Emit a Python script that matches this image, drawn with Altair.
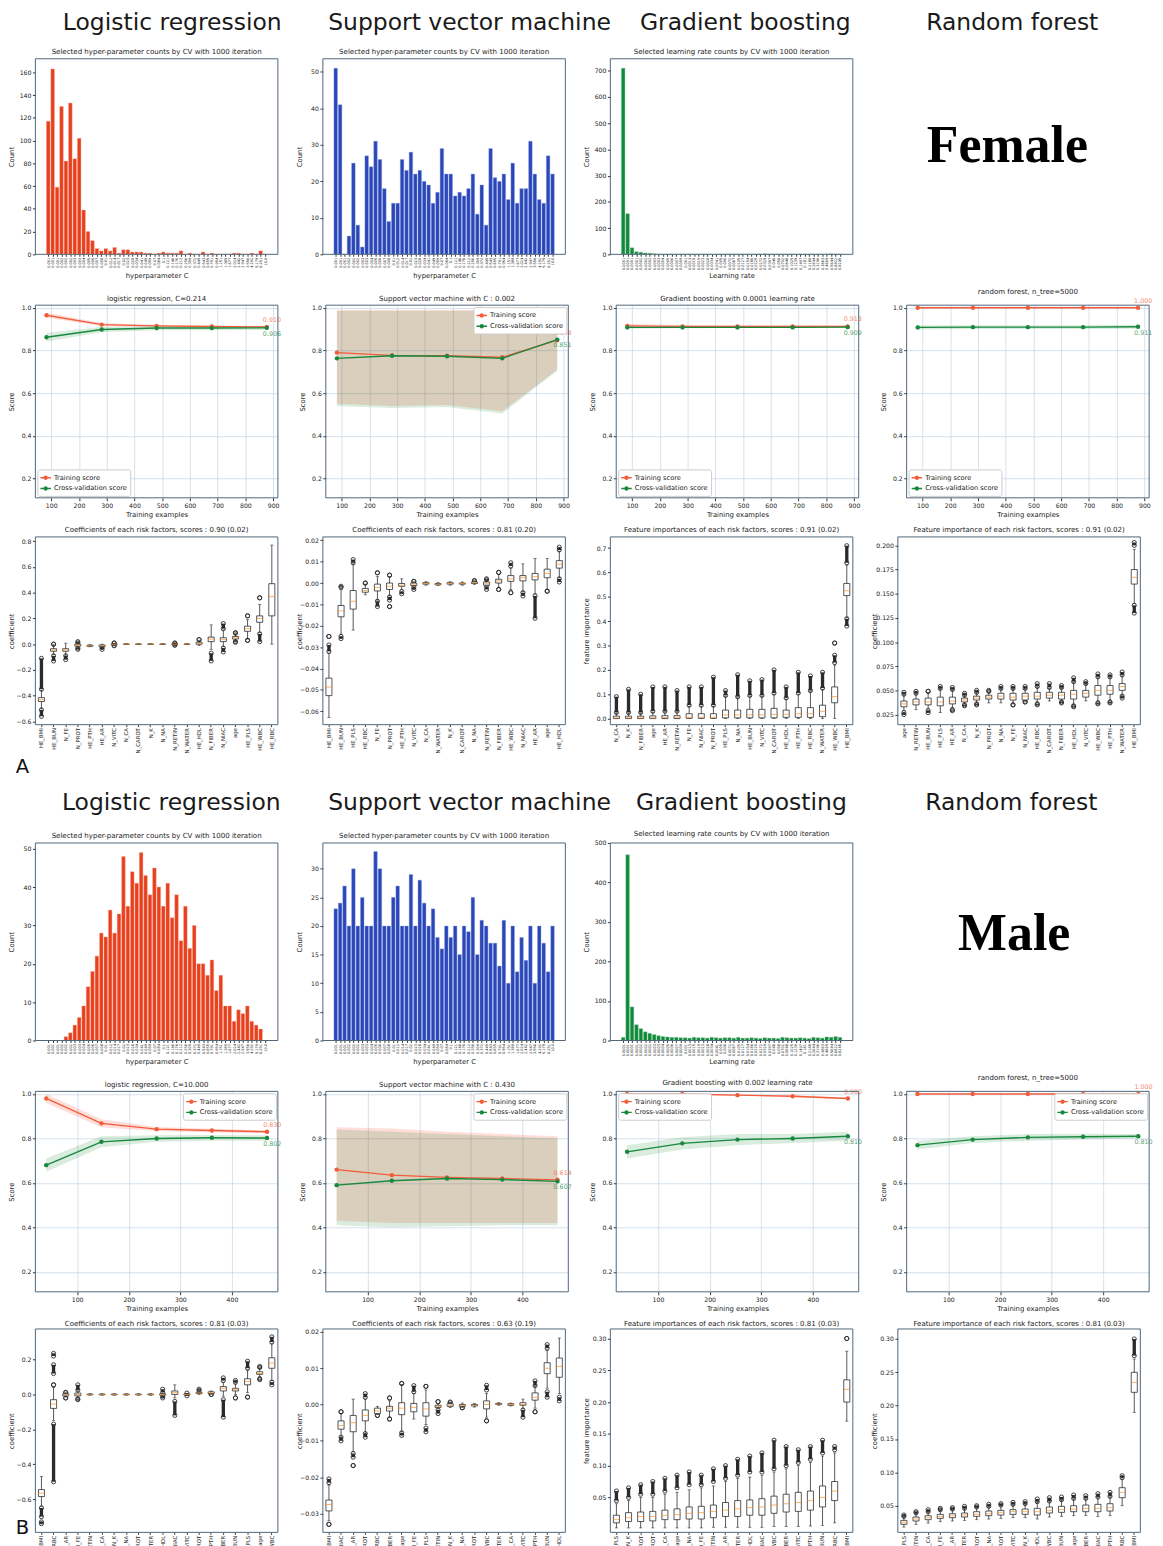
import altair as alt
import pandas as pd

FONT = "DejaVu Sans"
W = 248
FRAME = "#4d6479"
DARK = "#2a2a2a"
RED_LINE = "#f25c3b"
GREEN_LINE = "#17883d"
SERIES = ["Training score", "Cross-validation score"]
SYMBOL = ("M-1,-0.13H-0.36V0.13H-1Z M0.36,-0.13H1V0.13H0.36Z "
          "M0.42,0A0.42,0.42,0,1,1,-0.42,0A0.42,0.42,0,1,1,0.42,0Z")

# ---------------- histogram data ----------------
C_LABELS = ["0.001", "0.001", "0.001", "0.002", "0.002", "0.002", "0.003", "0.003", "0.004", "0.005",
            "0.006", "0.007", "0.008", "0.01", "0.012", "0.014", "0.017", "0.02", "0.023", "0.028",
            "0.034", "0.041", "0.049", "0.059", "0.07", "0.084", "0.1", "0.121", "0.146", "0.176",
            "0.212", "0.256", "0.309", "0.372", "0.449", "0.543", "0.655", "0.791", "0.954", "1.151",
            "1.389", "1.677", "2.024", "2.442", "2.947", "3.556", "4.292", "5.179", "6.251", "10.0"]
LR_LABELS = ["0.0001", "0.0001", "0.0001", "0.0001", "0.0002", "0.0002", "0.0002", "0.0003", "0.0003", "0.0004",
             "0.0005", "0.0006", "0.0007", "0.0009", "0.001", "0.0013", "0.0015", "0.0019", "0.0023", "0.0028",
             "0.0034", "0.0041", "0.005", "0.006", "0.0072", "0.0087", "0.0105", "0.0127", "0.0154", "0.0186",
             "0.0225", "0.0272", "0.0329", "0.0397", "0.048", "0.058", "0.0702", "0.0848", "0.1025", "0.1239",
             "0.1497", "0.181", "0.2188", "0.2644", "0.3196", "0.3863", "0.4669", "0.5644", "0.6822", "0.8245"]

F_LR_HIST = [117, 163, 59, 130, 82, 133, 84, 102, 39, 20, 12, 5, 3, 5, 3, 6, 1, 4, 4, 2,
             2, 2, 1, 1, 0, 1, 2, 1, 1, 1, 3, 0, 1, 0, 0, 2, 0, 1, 0, 0,
             0, 0, 1, 1, 0, 0, 1, 0, 3, 0]
F_SVM_HIST = [51, 41, 0, 5, 25, 8, 2, 27, 24, 31, 26, 18, 9, 14, 14, 26, 23, 28, 22, 23,
              20, 19, 14, 17, 29, 22, 22, 16, 17, 16, 18, 22, 11, 19, 8, 29, 21, 20, 22, 15,
              25, 14, 18, 18, 31, 22, 15, 14, 27, 22]
F_GB_HIST = [710, 155, 25, 10, 8, 5, 4, 2, 1, 1, 1, 1, 1, 1, 1, 1, 1, 1, 1, 1,
             0, 1, 1, 1, 1, 1, 1, 1, 1, 1, 1, 1, 2, 1, 1, 1, 1, 1, 1, 1,
             1, 1, 1, 1, 1, 1, 1, 2, 1, 1]
M_LR_HIST = [0, 0, 0, 0, 1, 2, 4, 6, 9, 14, 18, 22, 28, 27, 34, 28, 33, 48, 35, 44,
             41, 49, 43, 38, 45, 40, 35, 41, 32, 38, 26, 35, 24, 30, 20, 20, 17, 21, 13, 17,
             9, 9, 5, 8, 7, 9, 5, 4, 3, 0]
M_SVM_HIST = [23, 24, 27, 20, 30, 20, 25, 20, 20, 33, 30, 20, 20, 25, 27, 20, 20, 29, 20, 28,
              24, 20, 23, 18, 16, 20, 18, 20, 15, 20, 19, 25, 15, 21, 20, 17, 17, 13, 21, 10,
              20, 12, 18, 14, 20, 10, 20, 17, 12, 20]
M_GB_HIST = [8, 470, 85, 40, 30, 22, 18, 15, 12, 10, 9, 8, 8, 7, 7, 6, 8, 7, 7, 6,
             8, 7, 6, 7, 7, 6, 8, 6, 6, 7, 6, 5, 7, 6, 6, 5, 8, 7, 6, 6,
             7, 6, 5, 8, 7, 6, 9, 8, 10, 8]

# ---------------- learning curve data ----------------
F_SIZES = [83, 282, 480, 679, 877]
M_SIZES = [40, 147, 254, 361, 468]

F_LR_TR = [0.965, 0.921, 0.915, 0.912, 0.910]
F_LR_TR_LO = [0.953, 0.914, 0.911, 0.908, 0.906]
F_LR_TR_HI = [0.977, 0.928, 0.919, 0.916, 0.914]
F_LR_CV = [0.862, 0.898, 0.905, 0.905, 0.906]
F_LR_CV_LO = [0.842, 0.885, 0.895, 0.895, 0.896]
F_LR_CV_HI = [0.882, 0.911, 0.915, 0.915, 0.916]

F_SVM_TR = [0.790, 0.777, 0.775, 0.768, 0.848]
F_SVM_TR_LO = [0.55, 0.54, 0.545, 0.515, 0.71]
F_SVM_TR_HI = [0.99, 0.99, 0.99, 0.99, 0.99]
F_SVM_CV = [0.763, 0.775, 0.773, 0.763, 0.851]
F_SVM_CV_LO = [0.54, 0.53, 0.535, 0.505, 0.705]
F_SVM_CV_HI = [0.985, 0.985, 0.985, 0.985, 0.99]

F_GB_TR = [0.915, 0.913, 0.913, 0.913, 0.913]
F_GB_TR_LO = [0.905, 0.908, 0.909, 0.909, 0.909]
F_GB_TR_HI = [0.925, 0.918, 0.917, 0.917, 0.917]
F_GB_CV = [0.908, 0.908, 0.908, 0.908, 0.909]
F_GB_CV_LO = [0.902, 0.904, 0.905, 0.905, 0.905]
F_GB_CV_HI = [0.914, 0.912, 0.911, 0.911, 0.913]

F_RF_TR = [1.0, 1.0, 1.0, 1.0, 1.0]
F_RF_TR_LO = [0.997, 0.998, 0.998, 0.998, 0.998]
F_RF_TR_HI = [1.0, 1.0, 1.0, 1.0, 1.0]
F_RF_CV = [0.908, 0.909, 0.909, 0.909, 0.911]
F_RF_CV_LO = [0.898, 0.9, 0.9, 0.9, 0.902]
F_RF_CV_HI = [0.918, 0.918, 0.918, 0.918, 0.92]

M_LR_TR = [0.980, 0.868, 0.842, 0.836, 0.830]
M_LR_TR_LO = [0.96, 0.85, 0.832, 0.828, 0.823]
M_LR_TR_HI = [1.0, 0.886, 0.852, 0.844, 0.837]
M_LR_CV = [0.680, 0.785, 0.800, 0.803, 0.802]
M_LR_CV_LO = [0.65, 0.76, 0.785, 0.79, 0.79]
M_LR_CV_HI = [0.71, 0.81, 0.815, 0.816, 0.814]

M_SVM_TR = [0.660, 0.635, 0.625, 0.620, 0.614]
M_SVM_TR_LO = [0.43, 0.42, 0.42, 0.42, 0.42]
M_SVM_TR_HI = [0.85, 0.845, 0.83, 0.82, 0.81]
M_SVM_CV = [0.590, 0.610, 0.620, 0.615, 0.607]
M_SVM_CV_LO = [0.41, 0.40, 0.405, 0.41, 0.41]
M_SVM_CV_HI = [0.84, 0.83, 0.82, 0.81, 0.80]

M_GB_TR = [1.0, 1.0, 0.995, 0.990, 0.980]
M_GB_TR_LO = [0.999, 0.998, 0.992, 0.986, 0.976]
M_GB_TR_HI = [1.0, 1.0, 0.998, 0.994, 0.984]
M_GB_CV = [0.740, 0.778, 0.795, 0.800, 0.810]
M_GB_CV_LO = [0.71, 0.75, 0.77, 0.78, 0.79]
M_GB_CV_HI = [0.77, 0.806, 0.82, 0.82, 0.83]

M_RF_TR = [1.0, 1.0, 1.0, 1.0, 1.0]
M_RF_TR_LO = [0.998, 0.998, 0.998, 0.998, 0.998]
M_RF_TR_HI = [1.0, 1.0, 1.0, 1.0, 1.0]
M_RF_CV = [0.770, 0.795, 0.805, 0.808, 0.810]
M_RF_CV_LO = [0.75, 0.78, 0.79, 0.795, 0.80]
M_RF_CV_HI = [0.79, 0.81, 0.82, 0.821, 0.82]

# ---------------- box plot data: (whisker low, q1, median, q3, whisker high) ----------------
F_LR_FEAT = ["HE_BMI", "HE_BUN", "N_FE", "N_PROT", "HE_PTH", "HE_AR", "N_VITC", "N_CA", "N_CAROT", "N_K",
             "N_NA", "N_RETIN", "N_WATER", "HE_HDL", "N_FIBER", "N_NIAC", "age", "HE_PLS", "HE_WBC", "HE_RBC"]
F_LR_BOX = [(-0.50, -0.445, -0.43, -0.415, -0.36), (-0.08, -0.055, -0.045, -0.035, -0.005),
            (-0.085, -0.055, -0.045, -0.035, 0.008), (-0.03, -0.015, -0.008, 0.0, 0.01),
            (-0.02, -0.016, -0.012, -0.008, -0.004), (-0.025, -0.018, -0.012, -0.006, 0.0),
            (-0.008, -0.004, -0.001, 0.002, 0.006), (-0.003, -0.001, 0.0, 0.001, 0.003),
            (-0.003, -0.001, 0.0, 0.001, 0.003), (-0.003, -0.001, 0.0, 0.001, 0.003),
            (-0.003, -0.001, 0.0, 0.001, 0.003), (-0.004, -0.002, 0.0, 0.002, 0.004),
            (-0.003, -0.001, 0.0, 0.001, 0.003), (-0.01, 0.0, 0.007, 0.015, 0.03),
            (-0.04, 0.02, 0.04, 0.055, 0.15), (-0.02, 0.02, 0.035, 0.05, 0.11),
            (0.02, 0.04, 0.05, 0.06, 0.08), (0.04, 0.10, 0.12, 0.14, 0.19),
            (0.09, 0.17, 0.20, 0.22, 0.31), (0.0, 0.22, 0.37, 0.47, 0.77)]
F_LR_OUT = [(0, -0.35, -0.11), (0, -0.56, -0.51), (1, -0.13, -0.09), (1, 0.0, 0.0), (2, -0.12, -0.09),
            (3, 0.01, 0.02), (3, -0.04, -0.03), (5, -0.04, -0.025), (6, -0.012, -0.01), (6, 0.008, 0.01),
            (11, -0.008, -0.006), (11, 0.006, 0.01), (13, 0.035, 0.035), (14, -0.13, -0.07),
            (15, 0.12, 0.16), (15, -0.06, -0.03), (16, 0.085, 0.09), (16, 0.015, 0.02),
            (17, 0.22, 0.22), (17, 0.03, 0.03), (18, 0.36, 0.36), (18, 0.02, 0.08)]

F_SVM_FEAT = ["HE_BMI", "HE_BUN", "HE_PLS", "HE_RBC", "N_FE", "N_PROT", "HE_PTH", "N_VITC", "N_CA", "N_WATER",
              "N_K", "N_CAROT", "N_NA", "N_RETIN", "N_FIBER", "HE_WBC", "N_NIAC", "HE_AR", "age", "HE_HDL"]
F_SVM_BOX = [(-0.063, -0.0527, -0.0487, -0.0445, -0.033), (-0.024, -0.0158, -0.013, -0.0105, -0.003),
             (-0.022, -0.0122, -0.0085, -0.0035, 0.009), (-0.0055, -0.0043, -0.0035, -0.0025, -0.0005),
             (-0.008, -0.0037, -0.002, -0.0005, 0.003), (-0.006, -0.003, -0.0015, 0.0, 0.003),
             (-0.003, -0.0015, -0.001, -0.0002, 0.002), (-0.0018, -0.0012, -0.0005, 0.0, 0.0006),
             (-0.001, -0.0005, -0.0002, 0.0002, 0.0006), (-0.0012, -0.0008, -0.0005, -0.0002, 0.0002),
             (-0.001, -0.0005, -0.0001, 0.0002, 0.0006), (-0.001, -0.0005, -0.0002, 0.0, 0.0005),
             (-0.0006, -0.0002, 0.0001, 0.0005, 0.0009), (-0.0014, -0.001, -0.0003, 0.0005, 0.0012),
             (-0.002, 0.0, 0.001, 0.0018, 0.004), (-0.003, 0.0008, 0.002, 0.0035, 0.007),
             (-0.004, 0.001, 0.0025, 0.0035, 0.009), (-0.005, 0.0015, 0.003, 0.0045, 0.0115),
             (-0.003, 0.0025, 0.0045, 0.0065, 0.0115), (0.0025, 0.007, 0.0088, 0.0105, 0.015)]
F_SVM_OUT = [(0, -0.032, -0.029), (0, -0.025, -0.025), (1, -0.026, -0.025), (1, -0.002, -0.0015),
             (2, 0.0095, 0.011), (3, 0.0, 0.0), (4, -0.011, -0.0085), (4, 0.0048, 0.0048),
             (5, -0.011, -0.011), (5, -0.008, -0.0065), (5, 0.0037, 0.0037), (6, -0.005, -0.004),
             (7, -0.003, -0.002), (7, 0.0008, 0.0008), (12, 0.001, 0.0012), (13, -0.003, -0.0016),
             (13, 0.0015, 0.002), (14, 0.005, 0.005), (14, -0.003, -0.003), (15, 0.008, 0.0095),
             (15, -0.0045, -0.0045), (16, -0.006, -0.0045), (17, -0.0165, -0.006), (18, -0.0038, -0.0038),
             (19, 0.0155, 0.0168), (19, 0.0005, 0.002)]

F_GB_FEAT = ["N_CA", "N_K", "N_FIBER", "age", "HE_AR", "N_RETIN", "N_FE", "N_NIAC", "N_PROT", "HE_PLS",
             "N_NA", "HE_BUN", "N_VITC", "N_CAROT", "HE_HDL", "HE_PTH", "HE_RBC", "N_WATER", "HE_WBC", "HE_BMI"]
F_GB_BOX = [(0.0, 0.0, 0.003, 0.01, 0.022), (0.0, 0.0, 0.003, 0.01, 0.022), (0.0, 0.0, 0.003, 0.01, 0.022),
            (0.0, 0.0, 0.003, 0.011, 0.025), (0.0, 0.0, 0.004, 0.012, 0.028), (0.0, 0.0, 0.004, 0.012, 0.028),
            (0.0, 0.001, 0.006, 0.02, 0.05), (0.0, 0.001, 0.006, 0.02, 0.05), (0.0, 0.001, 0.006, 0.02, 0.05),
            (0.0, 0.003, 0.015, 0.035, 0.09), (0.0, 0.003, 0.015, 0.035, 0.085), (0.0, 0.003, 0.015, 0.038, 0.09),
            (0.0, 0.003, 0.015, 0.038, 0.09), (0.0, 0.003, 0.017, 0.042, 0.10), (0.0, 0.005, 0.018, 0.035, 0.08),
            (0.0, 0.005, 0.02, 0.045, 0.10), (0.0, 0.005, 0.02, 0.045, 0.11), (0.0, 0.008, 0.03, 0.055, 0.12),
            (0.0, 0.065, 0.09, 0.13, 0.22), (0.415, 0.505, 0.525, 0.555, 0.63)]
F_GB_OUT = [(0, 0.025, 0.09), (1, 0.025, 0.12), (2, 0.025, 0.10), (3, 0.03, 0.13), (4, 0.03, 0.13),
            (5, 0.03, 0.115), (6, 0.055, 0.13), (7, 0.055, 0.13), (8, 0.055, 0.17), (9, 0.095, 0.115),
            (10, 0.09, 0.18), (11, 0.095, 0.155), (12, 0.095, 0.16), (13, 0.105, 0.20), (14, 0.085, 0.13),
            (15, 0.105, 0.19), (16, 0.115, 0.175), (17, 0.125, 0.19), (18, 0.23, 0.26), (18, 0.31, 0.31),
            (19, 0.38, 0.41), (19, 0.64, 0.71)]

F_RF_FEAT = ["age", "N_RETIN", "HE_BUN", "HE_PLS", "HE_AR", "N_CA", "N_K", "N_PROT", "N_NA", "N_FE",
             "N_NIAC", "HE_RBC", "N_CAROT", "N_FIBER", "HE_HDL", "N_VITC", "HE_WBC", "HE_PTH", "N_WATER", "HE_BMI"]
F_RF_BOX = [(0.029, 0.033, 0.036, 0.039, 0.045), (0.03, 0.035, 0.038, 0.041, 0.046),
            (0.031, 0.035, 0.038, 0.042, 0.048), (0.027, 0.034, 0.038, 0.043, 0.051),
            (0.032, 0.036, 0.039, 0.043, 0.05), (0.036, 0.038, 0.04, 0.042, 0.044),
            (0.037, 0.04, 0.042, 0.044, 0.047), (0.037, 0.041, 0.043, 0.045, 0.048),
            (0.037, 0.041, 0.044, 0.047, 0.051), (0.036, 0.04, 0.043, 0.047, 0.051),
            (0.038, 0.04, 0.044, 0.047, 0.051), (0.038, 0.041, 0.044, 0.048, 0.053),
            (0.039, 0.042, 0.045, 0.048, 0.052), (0.039, 0.041, 0.045, 0.048, 0.052),
            (0.035, 0.041, 0.046, 0.05, 0.058), (0.039, 0.043, 0.047, 0.05, 0.056),
            (0.039, 0.045, 0.05, 0.055, 0.063), (0.04, 0.046, 0.05, 0.055, 0.063),
            (0.045, 0.05, 0.054, 0.057, 0.065), (0.14, 0.16, 0.167, 0.175, 0.196)]
F_RF_OUT = [(0, 0.046, 0.048), (0, 0.025, 0.027), (1, 0.047, 0.049), (2, 0.049, 0.049), (2, 0.027, 0.029),
            (3, 0.052, 0.054), (4, 0.051, 0.053), (4, 0.029, 0.03), (5, 0.045, 0.047), (5, 0.034, 0.035),
            (6, 0.048, 0.05), (6, 0.035, 0.036), (7, 0.049, 0.05), (8, 0.052, 0.054), (9, 0.052, 0.054),
            (9, 0.035, 0.035), (10, 0.052, 0.054), (10, 0.038, 0.038), (11, 0.054, 0.057), (11, 0.035, 0.036),
            (12, 0.053, 0.057), (13, 0.053, 0.055), (13, 0.037, 0.038), (14, 0.059, 0.063), (14, 0.033, 0.034),
            (15, 0.057, 0.059), (16, 0.064, 0.067), (16, 0.036, 0.037), (17, 0.064, 0.066), (17, 0.037, 0.038),
            (18, 0.066, 0.069), (18, 0.042, 0.044), (19, 0.20, 0.203), (19, 0.13, 0.138)]

M_LR_FEAT = ["HE_BMI", "HE_RBC", "HE_AR", "N_FE", "N_RETIN", "N_CA", "N_K", "N_NA", "N_CAROT", "N_WATER",
             "HE_HDL", "N_NIAC", "N_VITC", "N_PROT", "HE_PTH", "N_FIBER", "HE_BUN", "HE_PLS", "age", "HE_WBC"]
M_LR_BOX = [(-0.64, -0.585, -0.565, -0.545, -0.47), (-0.15, -0.08, -0.055, -0.03, 0.04),
            (-0.015, -0.008, -0.003, 0.003, 0.008), (-0.02, -0.008, 0.0, 0.008, 0.02),
            (-0.004, -0.002, 0.0, 0.002, 0.004), (-0.004, -0.002, 0.0, 0.002, 0.004),
            (-0.004, -0.002, 0.0, 0.002, 0.004), (-0.004, -0.002, 0.0, 0.002, 0.004),
            (-0.004, -0.002, 0.0, 0.002, 0.004), (-0.004, -0.002, 0.0, 0.002, 0.004),
            (-0.008, -0.004, 0.0, 0.004, 0.008), (-0.02, 0.0, 0.01, 0.02, 0.055),
            (-0.006, -0.003, 0.0, 0.003, 0.006), (0.0, 0.005, 0.008, 0.012, 0.018),
            (0.0, 0.005, 0.01, 0.015, 0.02), (-0.01, 0.02, 0.035, 0.045, 0.07),
            (0.0, 0.02, 0.03, 0.035, 0.06), (0.01, 0.055, 0.075, 0.09, 0.14),
            (0.10, 0.115, 0.12, 0.13, 0.15), (0.08, 0.15, 0.18, 0.21, 0.29)]
M_LR_OUT = [(0, -0.70, -0.65), (0, -0.74, -0.73), (1, -0.50, -0.17), (1, 0.055, 0.055), (1, 0.12, 0.17),
            (1, 0.22, 0.235), (2, -0.02, -0.02), (2, 0.01, 0.012), (3, -0.03, -0.025), (3, 0.025, 0.055),
            (10, -0.02, -0.01), (10, 0.012, 0.03), (11, -0.12, -0.04), (12, -0.008, 0.008), (13, 0.022, 0.03),
            (14, 0.0, 0.0), (15, -0.13, -0.03), (15, 0.08, 0.095), (16, -0.02, -0.02), (16, 0.07, 0.08),
            (17, -0.015, -0.015), (17, 0.15, 0.19), (18, 0.085, 0.09), (18, 0.155, 0.16), (19, 0.055, 0.07),
            (19, 0.30, 0.33)]

M_SVM_FEAT = ["HE_BMI", "N_NIAC", "HE_AR", "N_PROT", "HE_RBC", "N_FIBER", "age", "N_FE", "HE_PLS", "N_RETIN",
              "N_K", "N_NA", "N_CAROT", "HE_WBC", "N_WATER", "N_CA", "N_VITC", "HE_PTH", "HE_BUN", "HE_HDL"]
M_SVM_BOX = [(-0.032, -0.0293, -0.0275, -0.0263, -0.0222), (-0.009, -0.0068, -0.0058, -0.0045, -0.0025),
             (-0.013, -0.0075, -0.005, -0.003, 0.0015), (-0.008, -0.0045, -0.003, -0.0015, 0.0015),
             (-0.0028, -0.0025, -0.0018, -0.001, -0.0005), (-0.0035, -0.0018, -0.001, -0.0005, 0.001),
             (-0.0075, -0.0028, -0.001, 0.0005, 0.0055), (-0.004, -0.002, -0.0008, 0.0003, 0.003),
             (-0.0055, -0.0032, -0.0012, 0.0005, 0.004), (-0.0012, -0.0008, -0.0005, -0.0002, 0.0002),
             (-0.0008, -0.0005, -0.0002, 0.0002, 0.0005), (-0.0008, -0.0005, -0.0002, 0.0, 0.0004),
             (-0.0007, -0.0004, -0.0002, 0.0, 0.0003), (-0.0035, -0.0012, 0.0, 0.001, 0.003),
             (-0.0002, 0.0, 0.0001, 0.0003, 0.0005), (-0.0004, -0.0002, 0.0, 0.0002, 0.0004),
             (-0.0012, -0.0002, 0.0, 0.0005, 0.0015), (-0.001, 0.0012, 0.002, 0.0032, 0.005),
             (0.0045, 0.0085, 0.01, 0.0115, 0.015), (0.003, 0.0075, 0.0105, 0.0128, 0.0183)]
M_SVM_OUT = [(0, -0.033, -0.033), (0, -0.0215, -0.0205), (1, -0.01, -0.009), (1, -0.002, -0.002),
             (2, -0.0145, -0.0135), (2, -0.0168, -0.0168), (3, -0.009, -0.008), (3, 0.002, 0.003),
             (4, -0.003, -0.003), (5, -0.004, -0.004), (5, 0.0018, 0.0018), (6, -0.0085, -0.0078),
             (6, 0.0058, 0.0058), (7, 0.0035, 0.0052), (8, -0.0075, -0.0065), (8, 0.005, 0.005),
             (9, -0.0025, -0.0015), (9, 0.0008, 0.0008), (10, 0.0005, 0.0007), (11, -0.0009, -0.0009),
             (13, -0.0045, -0.0045), (13, 0.004, 0.0053), (16, -0.0035, -0.0015), (17, 0.0052, 0.0065),
             (17, -0.002, -0.002), (18, 0.002, 0.0035), (18, 0.0155, 0.0165), (19, 0.001, 0.002)]

M_GB_FEAT = ["HE_PLS", "N_K", "N_PROT", "N_CAROT", "N_CA", "age", "N_NA", "N_FE", "N_RETIN", "HE_AR",
             "N_WATER", "HE_HDL", "N_NIAC", "HE_WBC", "N_FIBER", "N_VITC", "HE_PTH", "HE_BUN", "HE_RBC", "HE_BMI"]
M_GB_BOX = [(0.002, 0.01, 0.015, 0.022, 0.04), (0.002, 0.012, 0.018, 0.026, 0.045),
            (0.002, 0.012, 0.02, 0.027, 0.05), (0.002, 0.013, 0.02, 0.028, 0.05),
            (0.002, 0.015, 0.022, 0.03, 0.055), (0.002, 0.015, 0.023, 0.032, 0.058),
            (0.002, 0.016, 0.025, 0.035, 0.062), (0.002, 0.016, 0.026, 0.036, 0.065),
            (0.003, 0.018, 0.028, 0.038, 0.068), (0.003, 0.02, 0.03, 0.042, 0.075),
            (0.003, 0.02, 0.032, 0.045, 0.08), (0.003, 0.022, 0.034, 0.046, 0.082),
            (0.003, 0.022, 0.035, 0.048, 0.085), (0.004, 0.025, 0.038, 0.052, 0.09),
            (0.004, 0.027, 0.04, 0.055, 0.095), (0.004, 0.028, 0.042, 0.058, 0.10),
            (0.005, 0.03, 0.045, 0.06, 0.105), (0.006, 0.035, 0.05, 0.068, 0.115),
            (0.01, 0.045, 0.06, 0.075, 0.12), (0.17, 0.20, 0.22, 0.235, 0.28)]
M_GB_OUT = [(0, 0.045, 0.06), (1, 0.05, 0.065), (2, 0.055, 0.07), (3, 0.055, 0.075), (4, 0.06, 0.08),
            (5, 0.065, 0.085), (6, 0.07, 0.09), (7, 0.07, 0.085), (8, 0.075, 0.095), (9, 0.08, 0.1),
            (10, 0.085, 0.11), (11, 0.09, 0.115), (12, 0.09, 0.12), (13, 0.095, 0.14), (14, 0.10, 0.13),
            (15, 0.105, 0.125), (16, 0.11, 0.13), (17, 0.12, 0.14), (18, 0.125, 0.13), (19, 0.30, 0.30)]

M_RF_FEAT = ["HE_PLS", "N_RETIN", "N_CA", "N_FE", "HE_AR", "N_WATER", "N_PROT", "N_NA", "N_CAROT", "N_VITC",
             "N_K", "HE_HDL", "HE_WBC", "HE_BUN", "age", "N_FIBER", "N_NIAC", "HE_PTH", "HE_RBC", "HE_BMI"]
M_RF_BOX = [(0.018, 0.022, 0.025, 0.028, 0.033), (0.022, 0.027, 0.03, 0.033, 0.038),
            (0.024, 0.029, 0.032, 0.035, 0.04), (0.026, 0.031, 0.034, 0.037, 0.043),
            (0.027, 0.032, 0.035, 0.038, 0.044), (0.028, 0.033, 0.036, 0.039, 0.045),
            (0.029, 0.034, 0.037, 0.041, 0.047), (0.03, 0.035, 0.038, 0.042, 0.048),
            (0.031, 0.036, 0.04, 0.043, 0.05), (0.032, 0.037, 0.041, 0.044, 0.051),
            (0.032, 0.037, 0.041, 0.045, 0.052), (0.03, 0.036, 0.041, 0.046, 0.055),
            (0.033, 0.039, 0.043, 0.048, 0.056), (0.034, 0.04, 0.044, 0.049, 0.058),
            (0.035, 0.041, 0.045, 0.05, 0.06), (0.035, 0.041, 0.046, 0.051, 0.06),
            (0.034, 0.041, 0.046, 0.052, 0.062), (0.035, 0.042, 0.047, 0.053, 0.063),
            (0.05, 0.062, 0.07, 0.077, 0.09), (0.19, 0.22, 0.235, 0.25, 0.27)]
M_RF_OUT = [(0, 0.034, 0.036), (1, 0.039, 0.041), (2, 0.041, 0.044), (3, 0.044, 0.046), (4, 0.045, 0.047),
            (5, 0.046, 0.049), (6, 0.048, 0.05), (7, 0.049, 0.052), (8, 0.051, 0.053), (9, 0.052, 0.055),
            (10, 0.053, 0.056), (11, 0.056, 0.06), (12, 0.057, 0.062), (13, 0.059, 0.063), (14, 0.061, 0.066),
            (15, 0.061, 0.065), (16, 0.063, 0.068), (17, 0.064, 0.07), (18, 0.092, 0.095), (19, 0.275, 0.30)]

ONE = pd.DataFrame({"t": [""]})


def frame(h):
    return alt.Chart(ONE).mark_rect(fillOpacity=0, stroke=FRAME, strokeWidth=1).encode(
        x=alt.value(0), x2=alt.value(W), y=alt.value(0), y2=alt.value(h))


def hist_panel(values, labels, color, edge, title, xtitle, ydom, yticks, h, toff):
    n = len(values)
    df = pd.DataFrame({"i": list(range(n)), "count": values})
    expr = "[" + ",".join("'%s'" % s for s in labels) + "][datum.value]"
    bars = alt.Chart(df).transform_calculate(
        lo="datum.i - 0.4", hi="datum.i + 0.4", base="0"
    ).mark_rect(color=color, stroke=edge, strokeWidth=0.4).encode(
        x=alt.X("lo:Q", scale=alt.Scale(domain=[-2.9, n - 1 + 2.9], nice=False, zero=False),
                axis=alt.Axis(values=list(range(n)), labelExpr=expr, labelAngle=270, labelFontSize=3.6,
                              labelOverlap=False, labelFlush=False, title=xtitle, minExtent=16, maxExtent=16,
                              titlePadding=2, grid=False, tickSize=2, labelPadding=1)),
        x2="hi:Q",
        y=alt.Y("count:Q", scale=alt.Scale(domain=ydom, nice=False, zero=False),
                axis=alt.Axis(values=yticks, title="Count", grid=False, minExtent=20, maxExtent=20,
                              titlePadding=1)),
        y2="base:Q")
    return alt.layer(bars, frame(h)).properties(
        width=W, height=h, title=alt.TitleParams(title, offset=toff))


def lc_panel(sizes, tr, trlo, trhi, cv, cvlo, cvhi, title, xdom, xticks, orient, h, toff):
    k = len(sizes)
    df = pd.DataFrame({"size": list(sizes) * 2, "score": list(tr) + list(cv),
                       "lo": list(trlo) + list(cvlo), "hi": list(trhi) + list(cvhi),
                       "series": [SERIES[0]] * k + [SERIES[1]] * k})
    xs = alt.Scale(domain=xdom, nice=False, zero=False)
    ys = alt.Scale(domain=[0.11, 1.012], nice=False, zero=False)
    xax = alt.Axis(values=xticks, title="Training examples", grid=True, gridColor="#b9cde0", gridWidth=0.6,
                   labelFlush=False, minExtent=12, maxExtent=12, titlePadding=1)
    yax = alt.Axis(values=[0.2, 0.4, 0.6, 0.8, 1.0], format=".1f", title="Score", grid=True,
                   gridColor="#b9cde0", gridWidth=0.6, labelFlush=False, minExtent=20, maxExtent=20,
                   titlePadding=1)
    X = alt.X("size:Q", scale=xs, axis=xax)
    cscale = alt.Scale(domain=SERIES, range=[RED_LINE, GREEN_LINE])
    base = alt.Chart(df)
    layers = []
    for s, col in zip(SERIES, ["#ff1a00", "#00801a"]):
        layers.append(base.transform_filter(alt.datum.series == s).mark_area(color=col, opacity=0.15).encode(
            x=X, y=alt.Y("lo:Q", scale=ys, axis=yax), y2="hi:Q"))
    layers.append(base.mark_line(strokeWidth=1.4).encode(
        x=X, y=alt.Y("score:Q", scale=ys, axis=yax),
        color=alt.Color("series:N", scale=cscale, legend=None)))
    for s, dy in zip(SERIES, [-7, 6]):
        layers.append(base.transform_filter(
            (alt.datum.series == s) & (alt.datum.size == sizes[-1])
        ).mark_text(align="left", dx=-4, dy=dy, fontSize=6.5, opacity=0.75, font=FONT).encode(
            x=X, y=alt.Y("score:Q", scale=ys, axis=yax), text=alt.Text("score:Q", format=".3f"),
            color=alt.Color("series:N", scale=cscale, legend=None)))
    layers.append(base.mark_circle(size=20, opacity=1).encode(
        x=X, y=alt.Y("score:Q", scale=ys, axis=yax),
        color=alt.Color("series:N", scale=cscale,
                        legend=alt.Legend(title=None, orient=orient, symbolType=SYMBOL, symbolSize=115,
                                          labelFontSize=6.8, labelFont=FONT, labelColor="#222",
                                          fillColor="white", strokeColor="#cccccc", padding=3,
                                          cornerRadius=2, offset=2, rowPadding=1, labelOffset=3,
                                          symbolStrokeWidth=0, symbolOpacity=1))))
    layers.append(frame(h))
    return alt.layer(*layers).resolve_scale(color="independent").properties(
        width=W, height=h, title=alt.TitleParams(title, offset=toff))


def box_panel(feats, box, outs, title, ytitle, ydom, yticks, yfmt, h, toff, letter="", letter_y=0):
    df = pd.DataFrame(box, columns=["wlo", "q1", "med", "q3", "whi"])
    df["feat"] = feats
    od = pd.DataFrame([{"feat": feats[i], "lo": lo, "hi": hi} for i, lo, hi in outs])
    X = alt.X("feat:N", sort=feats, scale=alt.Scale(type="band", paddingInner=0, paddingOuter=0),
              axis=alt.Axis(title=None, labelAngle=270, labelFontSize=5.5, minExtent=38, maxExtent=38,
                            labelPadding=1, tickSize=2, labelLimit=60))
    ys = alt.Scale(domain=ydom, nice=False, zero=False)
    yax = alt.Axis(title=ytitle, values=yticks, format=yfmt, grid=False, minExtent=20, maxExtent=20,
                   titlePadding=1)

    def Y(f):
        return alt.Y(f + ":Q", scale=ys, axis=yax)

    b = alt.Chart(df)
    o = alt.Chart(od)
    layers = [
        b.mark_rule(color=DARK, strokeWidth=0.8).encode(x=X, y=Y("wlo"), y2="whi:Q"),
        b.mark_tick(color=DARK, thickness=0.8, size=3.2).encode(x=X, y=Y("wlo")),
        b.mark_tick(color=DARK, thickness=0.8, size=3.2).encode(x=X, y=Y("whi")),
        o.mark_rule(color=DARK, strokeWidth=3.4).encode(x=X, y=Y("lo"), y2="hi:Q"),
        o.transform_fold(["lo", "hi"], as_=["k", "v"]).mark_point(
            shape="circle", filled=False, color=DARK, size=18, strokeWidth=0.9, opacity=1
        ).encode(x=X, y=Y("v")),
        b.mark_bar(fill="white", stroke=DARK, strokeWidth=0.8, width={"band": 0.5}).encode(
            x=X, y=Y("q1"), y2="q3:Q"),
        b.mark_tick(color="#ff8c1a", thickness=1, size=6).encode(x=X, y=Y("med")),
        frame(h),
    ]
    if letter:
        layers.append(alt.Chart(pd.DataFrame({"t": [letter]})).mark_text(
            font=FONT, fontSize=20, align="left", baseline="bottom", color="#111"
        ).encode(text="t:N", x=alt.value(-20), y=alt.value(letter_y)))
    return alt.layer(*layers).properties(width=W, height=h, title=alt.TitleParams(title, offset=toff))


def blank_panel(word, h, x, y):
    return alt.Chart(pd.DataFrame({"t": [word]})).mark_text(
        font="Liberation Serif", fontSize=53, fontWeight="bold", color="#000", align="center", baseline="middle"
    ).encode(text="t:N", x=alt.value(x), y=alt.value(y)).properties(width=W, height=h)


def header(names, xs, h, y):
    df = pd.DataFrame({"t": names})
    layers = []
    for nm, x in zip(names, xs):
        layers.append(alt.Chart(df).transform_filter(alt.datum.t == nm).mark_text(
            font=FONT, fontSize=24, color="#1a1a1a", align="center", baseline="middle"
        ).encode(text="t:N", x=alt.value(x), y=alt.value(y)))
    return alt.layer(*layers).properties(width=1100, height=h)


MODELS = ["Logistic  regression", "Support vector machine", "Gradient boosting", "Random forest"]
T_HIST = "Selected hyper-parameter counts by CV with 1000 iteration"
T_GBH = "Selected learning rate counts by CV with 1000 iteration"

RED_H, RED_E = "#e8401e", "#f59c86"
BLUE_H, BLUE_E = "#2a47b8", "#8b9be0"
GREEN_H, GREEN_E = "#12893a", "#7cc596"

H1, H2, H3, H4, H5, H6 = 200, 197, 192, 202, 205, 208
SP = 17

row1 = alt.hconcat(
    hist_panel(F_LR_HIST, C_LABELS, RED_H, RED_E, T_HIST, "hyperparameter C", [0, 172],
               [0, 20, 40, 60, 80, 100, 120, 140, 160], H1, 3),
    hist_panel(F_SVM_HIST, C_LABELS, BLUE_H, BLUE_E, T_HIST, "hyperparameter C", [0, 53.6],
               [0, 10, 20, 30, 40, 50], H1, 3),
    hist_panel(F_GB_HIST, LR_LABELS, GREEN_H, GREEN_E, T_GBH, "Learning rate", [0, 746],
               [0, 100, 200, 300, 400, 500, 600, 700], H1, 3),
    blank_panel("Female", H1, 140, 90),
    spacing=SP)

row2 = alt.hconcat(
    lc_panel(F_SIZES, F_LR_TR, F_LR_TR_LO, F_LR_TR_HI, F_LR_CV, F_LR_CV_LO, F_LR_CV_HI,
             "logistic regression, C=0.214", [43, 917], [100, 200, 300, 400, 500, 600, 700, 800, 900],
             "bottom-left", H2, 3),
    lc_panel(F_SIZES, F_SVM_TR, F_SVM_TR_LO, F_SVM_TR_HI, F_SVM_CV, F_SVM_CV_LO, F_SVM_CV_HI,
             "Support vector machine with C : 0.002", [43, 917], [100, 200, 300, 400, 500, 600, 700, 800, 900],
             "top-right", H2, 3),
    lc_panel(F_SIZES, F_GB_TR, F_GB_TR_LO, F_GB_TR_HI, F_GB_CV, F_GB_CV_LO, F_GB_CV_HI,
             "Gradient boosting with 0.0001 learning rate", [43, 917],
             [100, 200, 300, 400, 500, 600, 700, 800, 900], "bottom-left", H2, 3),
    lc_panel(F_SIZES, F_RF_TR, F_RF_TR_LO, F_RF_TR_HI, F_RF_CV, F_RF_CV_LO, F_RF_CV_HI,
             "random forest, n_tree=5000", [43, 917], [100, 200, 300, 400, 500, 600, 700, 800, 900],
             "bottom-left", H2, 3),
    spacing=SP)

row3 = alt.hconcat(
    box_panel(F_LR_FEAT, F_LR_BOX, F_LR_OUT, "Coefficients of each risk factors, scores : 0.90 (0.02)",
              "coefficient", [-0.625, 0.833], [-0.6, -0.4, -0.2, 0.0, 0.2, 0.4, 0.6, 0.8], ".1f", H3, 3,
              letter="A", letter_y=H3 + 53),
    box_panel(F_SVM_FEAT, F_SVM_BOX, F_SVM_OUT, "Coefficients of each risk factors, scores : 0.81 (0.20)",
              "coefficient", [-0.0663, 0.0216], [-0.06, -0.05, -0.04, -0.03, -0.02, -0.01, 0.0, 0.01, 0.02],
              ".2f", H3, 3),
    box_panel(F_GB_FEAT, F_GB_BOX, F_GB_OUT, "Feature importances of each risk factors, scores : 0.91 (0.02)",
              "feature importance", [-0.025, 0.746], [0.0, 0.1, 0.2, 0.3, 0.4, 0.5, 0.6, 0.7], ".1f", H3, 3),
    box_panel(F_RF_FEAT, F_RF_BOX, F_RF_OUT, "Feature importance of each risk factors, scores : 0.91 (0.02)",
              "coefficient", [0.0145, 0.2088], [0.025, 0.05, 0.075, 0.1, 0.125, 0.15, 0.175, 0.2], ".3f", H3, 3),
    spacing=SP)

row4 = alt.hconcat(
    hist_panel(M_LR_HIST, C_LABELS, RED_H, RED_E, T_HIST, "hyperparameter C", [0, 51.5],
               [0, 10, 20, 30, 40, 50], H4, 3),
    hist_panel(M_SVM_HIST, C_LABELS, BLUE_H, BLUE_E, T_HIST, "hyperparameter C", [0, 34.5],
               [0, 5, 10, 15, 20, 25, 30], H4, 3),
    hist_panel(M_GB_HIST, LR_LABELS, GREEN_H, GREEN_E, T_GBH, "Learning rate", [0, 500],
               [0, 100, 200, 300, 400, 500], H4, 3),
    blank_panel("Male", H4, 147, 93),
    spacing=SP)

row5 = alt.hconcat(
    lc_panel(M_SIZES, M_LR_TR, M_LR_TR_LO, M_LR_TR_HI, M_LR_CV, M_LR_CV_LO, M_LR_CV_HI,
             "logistic regression, C=10.000", [19, 489], [100, 200, 300, 400], "top-right", H5, 3),
    lc_panel(M_SIZES, M_SVM_TR, M_SVM_TR_LO, M_SVM_TR_HI, M_SVM_CV, M_SVM_CV_LO, M_SVM_CV_HI,
             "Support vector machine with C : 0.430", [19, 489], [100, 200, 300, 400], "top-right", H5, 3),
    lc_panel(M_SIZES, M_GB_TR, M_GB_TR_LO, M_GB_TR_HI, M_GB_CV, M_GB_CV_LO, M_GB_CV_HI,
             "Gradient boosting with 0.002 learning rate", [19, 489], [100, 200, 300, 400], "top-left", H5, 3),
    lc_panel(M_SIZES, M_RF_TR, M_RF_TR_LO, M_RF_TR_HI, M_RF_CV, M_RF_CV_LO, M_RF_CV_HI,
             "random forest, n_tree=5000", [19, 489], [100, 200, 300, 400], "top-right", H5, 3),
    spacing=SP)

row6 = alt.hconcat(
    box_panel(M_LR_FEAT, M_LR_BOX, M_LR_OUT, "Coefficients of each risk factors, scores : 0.81 (0.03)",
              "coefficient", [-0.79, 0.375], [-0.6, -0.4, -0.2, 0.0, 0.2], ".1f", H6, 1,
              letter="B", letter_y=H6 + 6),
    box_panel(M_SVM_FEAT, M_SVM_BOX, M_SVM_OUT, "Coefficients of each risk factors, scores : 0.63 (0.19)",
              "coefficient", [-0.0352, 0.0208], [-0.03, -0.02, -0.01, 0.0, 0.01, 0.02], ".2f", H6, 1),
    box_panel(M_GB_FEAT, M_GB_BOX, M_GB_OUT, "Feature importances of each risk factors, scores : 0.81 (0.03)",
              "feature importance", [-0.005, 0.315], [0.05, 0.10, 0.15, 0.20, 0.25, 0.30], ".2f", H6, 1),
    box_panel(M_RF_FEAT, M_RF_BOX, M_RF_OUT, "Feature importance of each risk factors, scores : 0.81 (0.03)",
              "coefficient", [0.01, 0.315], [0.05, 0.10, 0.15, 0.20, 0.25, 0.30], ".2f", H6, 1),
    spacing=SP)

headA = header(MODELS, [140, 444, 726, 999], 30, 14)
headB = header(MODELS, [139, 444, 722, 998], 36, 18)

chart = alt.vconcat(headA, row1, row2, row3, headB, row4, row5, row6, spacing=9).properties(
    padding={"left": 0, "top": -16, "right": 2, "bottom": 2}, background="white"
).configure_view(strokeWidth=0).configure_axis(
    labelFont=FONT, titleFont=FONT, labelFontSize=6.3, titleFontSize=7, labelColor="#222", titleColor="#222",
    tickColor="#333", tickSize=3, domain=False, titleFontWeight="normal", labelPadding=1.5
).configure_title(font=FONT, fontSize=7.2, fontWeight="normal", color="#1a1a1a", anchor="middle")

try:
    chart.to_dict()
except Exception:
    chart = chart.properties(padding={"left": 0, "top": 0, "right": 2, "bottom": 2})

chart.save("out.html", embed_options={"renderer": "svg", "actions": False})
